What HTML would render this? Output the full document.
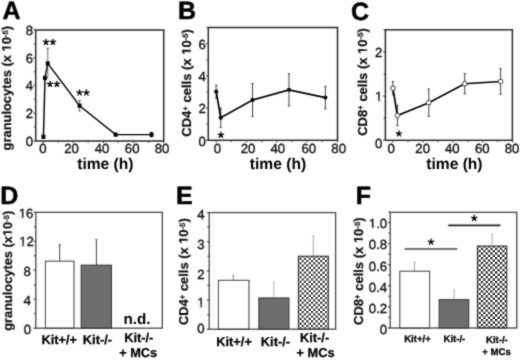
<!DOCTYPE html><html><head><meta charset="utf-8"><style>html,body{margin:0;padding:0;background:#fff;}svg{display:block;will-change:transform;} text{-webkit-font-smoothing:antialiased;text-rendering:geometricPrecision;}</style></head><body><svg width="520" height="360" viewBox="0 0 520 360">
<defs><filter id="bl" filterUnits="userSpaceOnUse" x="0" y="0" width="520" height="360"><feConvolveMatrix order="3" kernelMatrix="0.03 0.09 0.03 0.09 0.52 0.09 0.03 0.09 0.03" edgeMode="none"/></filter><pattern id="chk" patternUnits="userSpaceOnUse" width="4.76" height="4.76"><rect width="4.76" height="4.76" fill="#fff"/><rect width="2.38" height="2.38" fill="#444"/><rect x="2.38" y="2.38" width="2.38" height="2.38" fill="#444"/></pattern><pattern id="chkE" patternUnits="userSpaceOnUse" width="4.64" height="4.64"><rect width="4.64" height="4.64" fill="#fff"/><rect width="2.32" height="2.32" fill="#555"/><rect x="2.32" y="2.32" width="2.32" height="2.32" fill="#555"/></pattern></defs>
<rect width="520" height="360" fill="#fff"/>
<rect x="298.4" y="256.2" width="30" height="73" fill="url(#chkE)"/>
<rect x="477.4" y="246" width="29.4" height="82" fill="url(#chk)"/>
<g filter="url(#bl)" font-family='"Liberation Sans", sans-serif'>
<text  x="2.4" y="19.4" font-size="25" font-weight="bold" text-anchor="start" fill="#000" stroke="#000" stroke-width="0.5">A</text>
<text  x="178.1" y="19.4" font-size="25" font-weight="bold" text-anchor="start" fill="#000" stroke="#000" stroke-width="0.5">B</text>
<text  x="351" y="19.6" font-size="25" font-weight="bold" text-anchor="start" fill="#000" stroke="#000" stroke-width="0.5">C</text>
<text  x="0.2" y="204" font-size="25" font-weight="bold" text-anchor="start" fill="#000" stroke="#000" stroke-width="0.5">D</text>
<text  x="176" y="204.2" font-size="25" font-weight="bold" text-anchor="start" fill="#000" stroke="#000" stroke-width="0.5">E</text>
<text  x="355.7" y="203.9" font-size="25" font-weight="bold" text-anchor="start" fill="#000" stroke="#000" stroke-width="0.5">F</text>
<rect x="35.7" y="30" width="128" height="111" fill="none" stroke="#2a2a2a" stroke-width="1.5"/>
<line x1="33.5" y1="141" x2="35.7" y2="141" stroke="#484848" stroke-width="1.3" />
<line x1="33.94" y1="127.12" x2="35.7" y2="127.12" stroke="#484848" stroke-width="1.3" />
<line x1="33.5" y1="113.25" x2="35.7" y2="113.25" stroke="#484848" stroke-width="1.3" />
<line x1="33.94" y1="99.38" x2="35.7" y2="99.38" stroke="#484848" stroke-width="1.3" />
<line x1="33.5" y1="85.5" x2="35.7" y2="85.5" stroke="#484848" stroke-width="1.3" />
<line x1="33.94" y1="71.62" x2="35.7" y2="71.62" stroke="#484848" stroke-width="1.3" />
<line x1="33.5" y1="57.75" x2="35.7" y2="57.75" stroke="#484848" stroke-width="1.3" />
<line x1="33.94" y1="43.88" x2="35.7" y2="43.88" stroke="#484848" stroke-width="1.3" />
<line x1="33.5" y1="30" x2="35.7" y2="30" stroke="#484848" stroke-width="1.3" />
<line x1="43.2" y1="140.6" x2="43.2" y2="143" stroke="#484848" stroke-width="1.3" />
<line x1="58.24" y1="140.6" x2="58.24" y2="142.6" stroke="#484848" stroke-width="1.3" />
<line x1="73.28" y1="140.6" x2="73.28" y2="143" stroke="#484848" stroke-width="1.3" />
<line x1="88.32" y1="140.6" x2="88.32" y2="142.6" stroke="#484848" stroke-width="1.3" />
<line x1="103.36" y1="140.6" x2="103.36" y2="143" stroke="#484848" stroke-width="1.3" />
<line x1="118.4" y1="140.6" x2="118.4" y2="142.6" stroke="#484848" stroke-width="1.3" />
<line x1="133.44" y1="140.6" x2="133.44" y2="143" stroke="#484848" stroke-width="1.3" />
<line x1="148.48" y1="140.6" x2="148.48" y2="142.6" stroke="#484848" stroke-width="1.3" />
<line x1="163.52" y1="140.6" x2="163.52" y2="143" stroke="#484848" stroke-width="1.3" />
<text  x="33" y="145.62" font-size="13.2" font-weight="normal" text-anchor="end" fill="#111" stroke="#111" stroke-width="0.35">0</text>
<text  x="33" y="118.22" font-size="13.2" font-weight="normal" text-anchor="end" fill="#111" stroke="#111" stroke-width="0.35">2</text>
<text  x="33" y="90.22" font-size="13.2" font-weight="normal" text-anchor="end" fill="#111" stroke="#111" stroke-width="0.35">4</text>
<text  x="33" y="63.12" font-size="13.2" font-weight="normal" text-anchor="end" fill="#111" stroke="#111" stroke-width="0.35">6</text>
<text  x="33" y="34.62" font-size="13.2" font-weight="normal" text-anchor="end" fill="#111" stroke="#111" stroke-width="0.35">8</text>
<text  x="42.9" y="153.1" font-size="13.2" font-weight="normal" text-anchor="middle" fill="#111" stroke="#111" stroke-width="0.35">0</text>
<text  x="71.55" y="153.1" font-size="13.2" font-weight="normal" text-anchor="middle" fill="#111" stroke="#111" stroke-width="0.35">20</text>
<text  x="102.1" y="153.1" font-size="13.2" font-weight="normal" text-anchor="middle" fill="#111" stroke="#111" stroke-width="0.35">40</text>
<text  x="132.2" y="153.1" font-size="13.2" font-weight="normal" text-anchor="middle" fill="#111" stroke="#111" stroke-width="0.35">60</text>
<text  x="162" y="153.1" font-size="13.2" font-weight="normal" text-anchor="middle" fill="#111" stroke="#111" stroke-width="0.35">80</text>
<text  x="105.35" y="169.4" font-size="15.6" font-weight="bold" text-anchor="middle" fill="#000" >time (h)</text>
<text id="t1" transform="translate(10.9 150.4) rotate(-90)" font-size="12.9" font-weight="bold" fill="#111" stroke="#111" stroke-width="0.2"><tspan dy="-0">granulocytes (x 10</tspan><tspan font-size="7.74" dy="-3.1">-5</tspan><tspan dy="3.1">)</tspan></text>
<g transform="translate(10.9 150.4) rotate(-90)"><rect x="99.23" y="-1.59" width="2.52" height="2.24" fill="#fff"/><rect x="103.69" y="-1.59" width="2.24" height="2.24" fill="#fff"/></g>
<line x1="47.75" y1="48.3" x2="47.75" y2="79" stroke="#888" stroke-width="1.2" />
<line x1="46.25" y1="48.3" x2="49.25" y2="48.3" stroke="#888" stroke-width="1.2" />
<line x1="79.6" y1="100.6" x2="79.6" y2="110.9" stroke="#666" stroke-width="1.0" />
<line x1="78.4" y1="100.6" x2="80.8" y2="100.6" stroke="#666" stroke-width="1.0" />
<line x1="78.4" y1="110.9" x2="80.8" y2="110.9" stroke="#666" stroke-width="1.0" />
<polyline points="43.45,136.8 45,77.9 47.75,63.4 79.6,105.8 115.6,134.6 151.5,134.6" fill="none" stroke="#000" stroke-width="1.45"/>
<rect x="41.5" y="134.65" width="3.9" height="4.3" fill="#000"/>
<rect x="43.05" y="75.75" width="3.9" height="4.3" fill="#000"/>
<rect x="45.8" y="61.25" width="3.9" height="4.3" fill="#000"/>
<rect x="77.65" y="103.65" width="3.9" height="4.3" fill="#000"/>
<rect x="113.65" y="132.45" width="3.9" height="4.3" fill="#000"/>
<ellipse cx="151.5" cy="134.6" rx="2.2" ry="2.9" fill="#111"/>
<path d="M46 42.1L46 39.3M46 42.1L48.66 41.23M46 42.1L47.65 44.37M46 42.1L44.35 44.37M46 42.1L43.34 41.23" stroke="#000" stroke-width="1.35" stroke-linecap="round" fill="none"/>
<circle cx="46" cy="42.1" r="0.94" fill="#000"/>
<path d="M52.9 42.1L52.9 39.3M52.9 42.1L55.56 41.23M52.9 42.1L54.55 44.37M52.9 42.1L51.25 44.37M52.9 42.1L50.24 41.23" stroke="#000" stroke-width="1.35" stroke-linecap="round" fill="none"/>
<circle cx="52.9" cy="42.1" r="0.94" fill="#000"/>
<path d="M50 84.1L50 81.3M50 84.1L52.66 83.23M50 84.1L51.65 86.37M50 84.1L48.35 86.37M50 84.1L47.34 83.23" stroke="#000" stroke-width="1.35" stroke-linecap="round" fill="none"/>
<circle cx="50" cy="84.1" r="0.94" fill="#000"/>
<path d="M56.9 84.1L56.9 81.3M56.9 84.1L59.56 83.23M56.9 84.1L58.55 86.37M56.9 84.1L55.25 86.37M56.9 84.1L54.24 83.23" stroke="#000" stroke-width="1.35" stroke-linecap="round" fill="none"/>
<circle cx="56.9" cy="84.1" r="0.94" fill="#000"/>
<path d="M79.55 92.7L79.55 89.9M79.55 92.7L82.21 91.83M79.55 92.7L81.2 94.97M79.55 92.7L77.9 94.97M79.55 92.7L76.89 91.83" stroke="#000" stroke-width="1.35" stroke-linecap="round" fill="none"/>
<circle cx="79.55" cy="92.7" r="0.94" fill="#000"/>
<path d="M86.45 92.7L86.45 89.9M86.45 92.7L89.11 91.83M86.45 92.7L88.1 94.97M86.45 92.7L84.8 94.97M86.45 92.7L83.79 91.83" stroke="#000" stroke-width="1.35" stroke-linecap="round" fill="none"/>
<circle cx="86.45" cy="92.7" r="0.94" fill="#000"/>
<rect x="208.3" y="27.5" width="129.2" height="112.8" fill="none" stroke="#2a2a2a" stroke-width="1.5"/>
<line x1="206.1" y1="140.3" x2="208.3" y2="140.3" stroke="#484848" stroke-width="1.3" />
<line x1="206.54" y1="124.19" x2="208.3" y2="124.19" stroke="#484848" stroke-width="1.3" />
<line x1="206.1" y1="108.07" x2="208.3" y2="108.07" stroke="#484848" stroke-width="1.3" />
<line x1="206.54" y1="91.96" x2="208.3" y2="91.96" stroke="#484848" stroke-width="1.3" />
<line x1="206.1" y1="75.84" x2="208.3" y2="75.84" stroke="#484848" stroke-width="1.3" />
<line x1="206.54" y1="59.73" x2="208.3" y2="59.73" stroke="#484848" stroke-width="1.3" />
<line x1="206.1" y1="43.61" x2="208.3" y2="43.61" stroke="#484848" stroke-width="1.3" />
<line x1="206.54" y1="27.5" x2="208.3" y2="27.5" stroke="#484848" stroke-width="1.3" />
<line x1="216.2" y1="139.9" x2="216.2" y2="142.3" stroke="#484848" stroke-width="1.3" />
<line x1="231.36" y1="139.9" x2="231.36" y2="141.9" stroke="#484848" stroke-width="1.3" />
<line x1="246.52" y1="139.9" x2="246.52" y2="142.3" stroke="#484848" stroke-width="1.3" />
<line x1="261.68" y1="139.9" x2="261.68" y2="141.9" stroke="#484848" stroke-width="1.3" />
<line x1="276.84" y1="139.9" x2="276.84" y2="142.3" stroke="#484848" stroke-width="1.3" />
<line x1="292" y1="139.9" x2="292" y2="141.9" stroke="#484848" stroke-width="1.3" />
<line x1="307.16" y1="139.9" x2="307.16" y2="142.3" stroke="#484848" stroke-width="1.3" />
<line x1="322.32" y1="139.9" x2="322.32" y2="141.9" stroke="#484848" stroke-width="1.3" />
<line x1="337.48" y1="139.9" x2="337.48" y2="142.3" stroke="#484848" stroke-width="1.3" />
<text  x="205.9" y="146.32" font-size="13.2" font-weight="normal" text-anchor="end" fill="#111" stroke="#111" stroke-width="0.35">0</text>
<text  x="205.9" y="113.22" font-size="13.2" font-weight="normal" text-anchor="end" fill="#111" stroke="#111" stroke-width="0.35">2</text>
<text  x="205.9" y="81.02" font-size="13.2" font-weight="normal" text-anchor="end" fill="#111" stroke="#111" stroke-width="0.35">4</text>
<text  x="205.9" y="48.52" font-size="13.2" font-weight="normal" text-anchor="end" fill="#111" stroke="#111" stroke-width="0.35">6</text>
<text  x="217.35" y="153.1" font-size="13.2" font-weight="normal" text-anchor="middle" fill="#111" stroke="#111" stroke-width="0.35">0</text>
<text  x="248" y="153.1" font-size="13.2" font-weight="normal" text-anchor="middle" fill="#111" stroke="#111" stroke-width="0.35">20</text>
<text  x="277.75" y="153.1" font-size="13.2" font-weight="normal" text-anchor="middle" fill="#111" stroke="#111" stroke-width="0.35">40</text>
<text  x="308.75" y="153.1" font-size="13.2" font-weight="normal" text-anchor="middle" fill="#111" stroke="#111" stroke-width="0.35">60</text>
<text  x="338.7" y="153.1" font-size="13.2" font-weight="normal" text-anchor="middle" fill="#111" stroke="#111" stroke-width="0.35">80</text>
<text  x="278" y="168.8" font-size="15.6" font-weight="bold" text-anchor="middle" fill="#000" >time (h)</text>
<text id="t2" transform="translate(191.3 136.7) rotate(-90)" font-size="13" font-weight="bold" fill="#111" stroke="#111" stroke-width="0.2"><tspan dy="-0">CD4</tspan><tspan font-size="7.8" dy="-3.12">+</tspan><tspan dy="3.12"> cells (x 10</tspan><tspan font-size="7.8" dy="-3.12">-5</tspan><tspan dy="3.12">)</tspan></text>
<g transform="translate(191.3 136.7) rotate(-90)"><rect x="82.27" y="-1.61" width="2.54" height="2.26" fill="#fff"/><rect x="86.76" y="-1.61" width="2.26" height="2.26" fill="#fff"/></g>
<line x1="216.2" y1="85.19" x2="216.2" y2="98.08" stroke="#383838" stroke-width="0.95" />
<line x1="215.1" y1="85.19" x2="217.3" y2="85.19" stroke="#383838" stroke-width="0.95" />
<line x1="215.1" y1="98.08" x2="217.3" y2="98.08" stroke="#383838" stroke-width="0.95" />
<line x1="220.75" y1="108.07" x2="220.75" y2="127.41" stroke="#383838" stroke-width="0.95" />
<line x1="219.65" y1="108.07" x2="221.85" y2="108.07" stroke="#383838" stroke-width="0.95" />
<line x1="219.65" y1="127.41" x2="221.85" y2="127.41" stroke="#383838" stroke-width="0.95" />
<line x1="252.58" y1="83.42" x2="252.58" y2="116.61" stroke="#383838" stroke-width="0.95" />
<line x1="251.48" y1="83.42" x2="253.68" y2="83.42" stroke="#383838" stroke-width="0.95" />
<line x1="251.48" y1="116.61" x2="253.68" y2="116.61" stroke="#383838" stroke-width="0.95" />
<line x1="288.97" y1="73.75" x2="288.97" y2="105.98" stroke="#383838" stroke-width="0.95" />
<line x1="287.87" y1="73.75" x2="290.07" y2="73.75" stroke="#383838" stroke-width="0.95" />
<line x1="287.87" y1="105.98" x2="290.07" y2="105.98" stroke="#383838" stroke-width="0.95" />
<line x1="325.35" y1="86.32" x2="325.35" y2="108.88" stroke="#383838" stroke-width="0.95" />
<line x1="324.25" y1="86.32" x2="326.45" y2="86.32" stroke="#383838" stroke-width="0.95" />
<line x1="324.25" y1="108.88" x2="326.45" y2="108.88" stroke="#383838" stroke-width="0.95" />
<polyline points="216.2,91.63 220.75,117.74 252.58,100.01 288.97,89.86 325.35,97.6" fill="none" stroke="#000" stroke-width="1.7"/>
<circle cx="216.2" cy="91.63" r="2.15" fill="#111"/>
<circle cx="220.75" cy="117.74" r="2.15" fill="#111"/>
<circle cx="252.58" cy="100.01" r="2.15" fill="#111"/>
<circle cx="288.97" cy="89.86" r="2.15" fill="#111"/>
<circle cx="325.35" cy="97.6" r="2.15" fill="#111"/>
<path d="M220.9 135L220.9 132.2M220.9 135L223.56 134.13M220.9 135L222.55 137.27M220.9 135L219.25 137.27M220.9 135L218.24 134.13" stroke="#000" stroke-width="1.35" stroke-linecap="round" fill="none"/>
<circle cx="220.9" cy="135" r="0.94" fill="#000"/>
<rect x="385.4" y="29.8" width="127" height="110.5" fill="none" stroke="#2a2a2a" stroke-width="1.5"/>
<line x1="383.2" y1="140.3" x2="385.4" y2="140.3" stroke="#484848" stroke-width="1.3" />
<line x1="383.64" y1="118.2" x2="385.4" y2="118.2" stroke="#484848" stroke-width="1.3" />
<line x1="383.2" y1="96.1" x2="385.4" y2="96.1" stroke="#484848" stroke-width="1.3" />
<line x1="383.64" y1="74" x2="385.4" y2="74" stroke="#484848" stroke-width="1.3" />
<line x1="383.2" y1="51.9" x2="385.4" y2="51.9" stroke="#484848" stroke-width="1.3" />
<line x1="383.64" y1="29.8" x2="385.4" y2="29.8" stroke="#484848" stroke-width="1.3" />
<line x1="392.9" y1="139.9" x2="392.9" y2="142.3" stroke="#484848" stroke-width="1.3" />
<line x1="407.86" y1="139.9" x2="407.86" y2="141.9" stroke="#484848" stroke-width="1.3" />
<line x1="422.82" y1="139.9" x2="422.82" y2="142.3" stroke="#484848" stroke-width="1.3" />
<line x1="437.78" y1="139.9" x2="437.78" y2="141.9" stroke="#484848" stroke-width="1.3" />
<line x1="452.74" y1="139.9" x2="452.74" y2="142.3" stroke="#484848" stroke-width="1.3" />
<line x1="467.7" y1="139.9" x2="467.7" y2="141.9" stroke="#484848" stroke-width="1.3" />
<line x1="482.66" y1="139.9" x2="482.66" y2="142.3" stroke="#484848" stroke-width="1.3" />
<line x1="497.62" y1="139.9" x2="497.62" y2="141.9" stroke="#484848" stroke-width="1.3" />
<line x1="512.58" y1="139.9" x2="512.58" y2="142.3" stroke="#484848" stroke-width="1.3" />
<text  x="382.4" y="147.62" font-size="13.2" font-weight="normal" text-anchor="end" fill="#111" stroke="#111" stroke-width="0.35">0</text>
<text id="t3" x="382.4" y="100.92" font-size="13.2" font-weight="normal" text-anchor="end" fill="#111" stroke="#111" stroke-width="0.35">1</text>
<g><rect x="375.06" y="99.52" width="3.12" height="2.06" fill="#fff"/><rect x="379.7" y="99.52" width="2.69" height="2.06" fill="#fff"/></g>
<text  x="382.4" y="57.12" font-size="13.2" font-weight="normal" text-anchor="end" fill="#111" stroke="#111" stroke-width="0.35">2</text>
<text  x="391.25" y="153.1" font-size="13.2" font-weight="normal" text-anchor="middle" fill="#111" stroke="#111" stroke-width="0.35">0</text>
<text  x="422.7" y="153.1" font-size="13.2" font-weight="normal" text-anchor="middle" fill="#111" stroke="#111" stroke-width="0.35">20</text>
<text  x="452.3" y="153.1" font-size="13.2" font-weight="normal" text-anchor="middle" fill="#111" stroke="#111" stroke-width="0.35">40</text>
<text  x="482.3" y="153.1" font-size="13.2" font-weight="normal" text-anchor="middle" fill="#111" stroke="#111" stroke-width="0.35">60</text>
<text  x="512.1" y="153.1" font-size="13.2" font-weight="normal" text-anchor="middle" fill="#111" stroke="#111" stroke-width="0.35">80</text>
<text  x="454.4" y="168.5" font-size="15.6" font-weight="bold" text-anchor="middle" fill="#000" >time (h)</text>
<text id="t4" transform="translate(366.5 135.8) rotate(-90)" font-size="13" font-weight="bold" fill="#111" stroke="#111" stroke-width="0.2"><tspan dy="-0">CD8</tspan><tspan font-size="7.8" dy="-3.12">+</tspan><tspan dy="3.12"> cells (x 10</tspan><tspan font-size="7.8" dy="-3.12">-5</tspan><tspan dy="3.12">)</tspan></text>
<g transform="translate(366.5 135.8) rotate(-90)"><rect x="82.27" y="-1.61" width="2.54" height="2.26" fill="#fff"/><rect x="86.76" y="-1.61" width="2.26" height="2.26" fill="#fff"/></g>
<line x1="392.9" y1="81.51" x2="392.9" y2="94.77" stroke="#383838" stroke-width="0.95" />
<line x1="391.8" y1="81.51" x2="394" y2="81.51" stroke="#383838" stroke-width="0.95" />
<line x1="391.8" y1="94.77" x2="394" y2="94.77" stroke="#383838" stroke-width="0.95" />
<line x1="397.39" y1="105.38" x2="397.39" y2="125.71" stroke="#383838" stroke-width="0.95" />
<line x1="396.29" y1="105.38" x2="398.49" y2="105.38" stroke="#383838" stroke-width="0.95" />
<line x1="396.29" y1="125.71" x2="398.49" y2="125.71" stroke="#383838" stroke-width="0.95" />
<line x1="428.8" y1="89.03" x2="428.8" y2="116.43" stroke="#383838" stroke-width="0.95" />
<line x1="427.7" y1="89.03" x2="429.9" y2="89.03" stroke="#383838" stroke-width="0.95" />
<line x1="427.7" y1="116.43" x2="429.9" y2="116.43" stroke="#383838" stroke-width="0.95" />
<line x1="464.71" y1="73.56" x2="464.71" y2="93.89" stroke="#383838" stroke-width="0.95" />
<line x1="463.61" y1="73.56" x2="465.81" y2="73.56" stroke="#383838" stroke-width="0.95" />
<line x1="463.61" y1="93.89" x2="465.81" y2="93.89" stroke="#383838" stroke-width="0.95" />
<line x1="500.61" y1="68.7" x2="500.61" y2="94.33" stroke="#383838" stroke-width="0.95" />
<line x1="499.51" y1="68.7" x2="501.71" y2="68.7" stroke="#383838" stroke-width="0.95" />
<line x1="499.51" y1="94.33" x2="501.71" y2="94.33" stroke="#383838" stroke-width="0.95" />
<polyline points="392.9,88.14 397.39,115.55 428.8,102.73 464.71,83.72 500.61,81.51" fill="none" stroke="#000" stroke-width="1.7"/>
<circle cx="392.9" cy="88.14" r="2.3" fill="#fff" stroke="#111" stroke-width="1"/>
<circle cx="397.39" cy="115.55" r="2.3" fill="#fff" stroke="#111" stroke-width="1"/>
<circle cx="428.8" cy="102.73" r="2.3" fill="#fff" stroke="#111" stroke-width="1"/>
<circle cx="464.71" cy="83.72" r="2.3" fill="#fff" stroke="#111" stroke-width="1"/>
<circle cx="500.61" cy="81.51" r="2.3" fill="#fff" stroke="#111" stroke-width="1"/>
<path d="M398.9 133.7L398.9 130.9M398.9 133.7L401.56 132.83M398.9 133.7L400.55 135.97M398.9 133.7L397.25 135.97M398.9 133.7L396.24 132.83" stroke="#000" stroke-width="1.35" stroke-linecap="round" fill="none"/>
<circle cx="398.9" cy="133.7" r="0.94" fill="#000"/>
<line x1="59.7" y1="244.7" x2="59.7" y2="261.3" stroke="#444" stroke-width="1.0" />
<line x1="58.7" y1="244.7" x2="60.7" y2="244.7" stroke="#444" stroke-width="1.0" />
<line x1="96.4" y1="239.7" x2="96.4" y2="265.2" stroke="#444" stroke-width="1.0" />
<line x1="95.4" y1="239.7" x2="97.4" y2="239.7" stroke="#444" stroke-width="1.0" />
<rect x="45.5" y="261.3" width="28.5" height="66.9" fill="#fff" stroke="#333" stroke-width="1.1"/>
<rect x="81.2" y="265.2" width="30.2" height="63" fill="#6e6e6e" stroke="#333" stroke-width="1.1"/>
<rect x="35.8" y="212.3" width="126.5" height="115.9" fill="none" stroke="#484848" stroke-width="1.3"/>
<line x1="33.6" y1="328.2" x2="35.8" y2="328.2" stroke="#484848" stroke-width="1.3" />
<line x1="34.04" y1="313.71" x2="35.8" y2="313.71" stroke="#484848" stroke-width="1.3" />
<line x1="33.6" y1="299.23" x2="35.8" y2="299.23" stroke="#484848" stroke-width="1.3" />
<line x1="34.04" y1="284.74" x2="35.8" y2="284.74" stroke="#484848" stroke-width="1.3" />
<line x1="33.6" y1="270.25" x2="35.8" y2="270.25" stroke="#484848" stroke-width="1.3" />
<line x1="34.04" y1="255.76" x2="35.8" y2="255.76" stroke="#484848" stroke-width="1.3" />
<line x1="33.6" y1="241.28" x2="35.8" y2="241.28" stroke="#484848" stroke-width="1.3" />
<line x1="34.04" y1="226.79" x2="35.8" y2="226.79" stroke="#484848" stroke-width="1.3" />
<line x1="33.6" y1="212.3" x2="35.8" y2="212.3" stroke="#484848" stroke-width="1.3" />
<text  x="27.35" y="334.32" font-size="13.2" font-weight="normal" text-anchor="middle" fill="#111" stroke="#111" stroke-width="0.35">0</text>
<text  x="27.05" y="305.42" font-size="13.2" font-weight="normal" text-anchor="middle" fill="#111" stroke="#111" stroke-width="0.35">4</text>
<text  x="27.05" y="276.12" font-size="13.2" font-weight="normal" text-anchor="middle" fill="#111" stroke="#111" stroke-width="0.35">8</text>
<text id="t5" x="26.55" y="245.92" font-size="13.2" font-weight="normal" text-anchor="middle" fill="#111" stroke="#111" stroke-width="0.35">12</text>
<g><rect x="19.21" y="244.52" width="3.12" height="2.06" fill="#fff"/><rect x="23.86" y="244.52" width="2.69" height="2.06" fill="#fff"/></g>
<text id="t6" x="26.1" y="218.22" font-size="13.2" font-weight="normal" text-anchor="middle" fill="#111" stroke="#111" stroke-width="0.35">16</text>
<g><rect x="18.76" y="216.82" width="3.12" height="2.06" fill="#fff"/><rect x="23.41" y="216.82" width="2.69" height="2.06" fill="#fff"/></g>
<text  x="137" y="324.2" font-size="15.2" font-weight="bold" text-anchor="middle" fill="#000" >n.d.</text>
<text  x="59.3" y="343.9" font-size="12.8" font-weight="bold" text-anchor="middle" fill="#000" stroke="#000" stroke-width="0.25">Kit+/+</text>
<text  x="97.4" y="343.9" font-size="12.8" font-weight="bold" text-anchor="middle" fill="#000" stroke="#000" stroke-width="0.25">Kit-/-</text>
<text  x="138.8" y="341.7" font-size="12.8" font-weight="bold" text-anchor="middle" fill="#000" stroke="#000" stroke-width="0.25">Kit-/-</text>
<text  x="138.2" y="356.8" font-size="12.8" font-weight="bold" text-anchor="middle" fill="#000" stroke="#000" stroke-width="0.25">+ MCs</text>
<text id="t7" transform="translate(12 330.8) rotate(-90)" font-size="12.82" font-weight="bold" fill="#111" stroke="#111" stroke-width="0.2"><tspan dy="-0">granulocytes (x10</tspan><tspan font-size="7.69" dy="-3.08">-5</tspan><tspan dy="3.08">)</tspan></text>
<g transform="translate(12 330.8) rotate(-90)"><rect x="95.07" y="-1.59" width="2.5" height="2.23" fill="#fff"/><rect x="99.51" y="-1.59" width="2.23" height="2.23" fill="#fff"/></g>
<line x1="233.3" y1="275.1" x2="233.3" y2="280.4" stroke="#777" stroke-width="0.9" />
<line x1="232.3" y1="275.1" x2="234.3" y2="275.1" stroke="#777" stroke-width="0.9" />
<line x1="273.8" y1="282.2" x2="273.8" y2="298" stroke="#aaa" stroke-width="0.9" />
<line x1="272.8" y1="282.2" x2="274.8" y2="282.2" stroke="#aaa" stroke-width="0.9" />
<line x1="313.3" y1="236.2" x2="313.3" y2="256.2" stroke="#999" stroke-width="0.9" />
<line x1="312.3" y1="236.2" x2="314.3" y2="236.2" stroke="#999" stroke-width="0.9" />
<rect x="218.5" y="280.4" width="30.4" height="48.8" fill="#fff" stroke="#333" stroke-width="1.1"/>
<rect x="258.9" y="298" width="30" height="31.2" fill="#6e6e6e" stroke="#333" stroke-width="1.1"/>
<rect x="298.4" y="256.2" width="30" height="73" fill="none" stroke="#333" stroke-width="1.1"/>
<rect x="209.2" y="212.6" width="126.4" height="116.6" fill="none" stroke="#484848" stroke-width="1.3"/>
<line x1="207" y1="329.2" x2="209.2" y2="329.2" stroke="#484848" stroke-width="1.3" />
<line x1="207.44" y1="314.62" x2="209.2" y2="314.62" stroke="#484848" stroke-width="1.3" />
<line x1="207" y1="300.05" x2="209.2" y2="300.05" stroke="#484848" stroke-width="1.3" />
<line x1="207.44" y1="285.48" x2="209.2" y2="285.48" stroke="#484848" stroke-width="1.3" />
<line x1="207" y1="270.9" x2="209.2" y2="270.9" stroke="#484848" stroke-width="1.3" />
<line x1="207.44" y1="256.32" x2="209.2" y2="256.32" stroke="#484848" stroke-width="1.3" />
<line x1="207" y1="241.75" x2="209.2" y2="241.75" stroke="#484848" stroke-width="1.3" />
<line x1="207.44" y1="227.18" x2="209.2" y2="227.18" stroke="#484848" stroke-width="1.3" />
<line x1="207" y1="212.6" x2="209.2" y2="212.6" stroke="#484848" stroke-width="1.3" />
<text  x="204.6" y="333.37" font-size="13.2" font-weight="normal" text-anchor="end" fill="#111" stroke="#111" stroke-width="0.35">0</text>
<text id="t8" x="204.6" y="306.82" font-size="13.2" font-weight="normal" text-anchor="end" fill="#111" stroke="#111" stroke-width="0.35">1</text>
<g><rect x="197.26" y="305.42" width="3.12" height="2.06" fill="#fff"/><rect x="201.9" y="305.42" width="2.69" height="2.06" fill="#fff"/></g>
<text  x="204.6" y="278.82" font-size="13.2" font-weight="normal" text-anchor="end" fill="#111" stroke="#111" stroke-width="0.35">2</text>
<text  x="204.6" y="248.82" font-size="13.2" font-weight="normal" text-anchor="end" fill="#111" stroke="#111" stroke-width="0.35">3</text>
<text  x="204.6" y="219.37" font-size="13.2" font-weight="normal" text-anchor="end" fill="#111" stroke="#111" stroke-width="0.35">4</text>
<text  x="234.1" y="345.5" font-size="12.8" font-weight="bold" text-anchor="middle" fill="#000" stroke="#000" stroke-width="0.25">Kit+/+</text>
<text  x="275.4" y="345.5" font-size="12.8" font-weight="bold" text-anchor="middle" fill="#000" stroke="#000" stroke-width="0.25">Kit-/-</text>
<text  x="314.6" y="342" font-size="12.8" font-weight="bold" text-anchor="middle" fill="#000" stroke="#000" stroke-width="0.25">Kit-/-</text>
<text  x="315.6" y="357" font-size="12.8" font-weight="bold" text-anchor="middle" fill="#000" stroke="#000" stroke-width="0.25">+ MCs</text>
<text id="t9" transform="translate(188 325) rotate(-90)" font-size="12.9" font-weight="bold" fill="#111" stroke="#111" stroke-width="0.2"><tspan dy="-0">CD4</tspan><tspan font-size="7.74" dy="-3.1">+</tspan><tspan dy="3.1"> cells (x 10</tspan><tspan font-size="7.74" dy="-3.1">-5</tspan><tspan dy="3.1">)</tspan></text>
<g transform="translate(188 325) rotate(-90)"><rect x="81.59" y="-1.59" width="2.52" height="2.24" fill="#fff"/><rect x="86.05" y="-1.59" width="2.24" height="2.24" fill="#fff"/></g>
<line x1="414.5" y1="262.1" x2="414.5" y2="271.3" stroke="#999" stroke-width="0.9" />
<line x1="413.5" y1="262.1" x2="415.5" y2="262.1" stroke="#999" stroke-width="0.9" />
<line x1="454.2" y1="290" x2="454.2" y2="299.7" stroke="#aaa" stroke-width="0.9" />
<line x1="453.2" y1="290" x2="455.2" y2="290" stroke="#aaa" stroke-width="0.9" />
<line x1="492.2" y1="234" x2="492.2" y2="246" stroke="#aaa" stroke-width="0.9" />
<line x1="491.2" y1="234" x2="493.2" y2="234" stroke="#aaa" stroke-width="0.9" />
<rect x="399.8" y="271.3" width="29.7" height="56.7" fill="#fff" stroke="#333" stroke-width="1.1"/>
<rect x="439.2" y="299.7" width="29.5" height="28.3" fill="#6e6e6e" stroke="#333" stroke-width="1.1"/>
<rect x="477.4" y="246" width="29.4" height="82" fill="none" stroke="#333" stroke-width="1.1"/>
<rect x="390.2" y="212.3" width="126.6" height="115.7" fill="none" stroke="#484848" stroke-width="1.3"/>
<line x1="388" y1="328" x2="390.2" y2="328" stroke="#484848" stroke-width="1.3" />
<line x1="388.44" y1="317.45" x2="390.2" y2="317.45" stroke="#484848" stroke-width="1.3" />
<line x1="388" y1="306.9" x2="390.2" y2="306.9" stroke="#484848" stroke-width="1.3" />
<line x1="388.44" y1="296.35" x2="390.2" y2="296.35" stroke="#484848" stroke-width="1.3" />
<line x1="388" y1="285.8" x2="390.2" y2="285.8" stroke="#484848" stroke-width="1.3" />
<line x1="388.44" y1="275.25" x2="390.2" y2="275.25" stroke="#484848" stroke-width="1.3" />
<line x1="388" y1="264.7" x2="390.2" y2="264.7" stroke="#484848" stroke-width="1.3" />
<line x1="388.44" y1="254.15" x2="390.2" y2="254.15" stroke="#484848" stroke-width="1.3" />
<line x1="388" y1="243.6" x2="390.2" y2="243.6" stroke="#484848" stroke-width="1.3" />
<line x1="388.44" y1="233.05" x2="390.2" y2="233.05" stroke="#484848" stroke-width="1.3" />
<line x1="388" y1="222.5" x2="390.2" y2="222.5" stroke="#484848" stroke-width="1.3" />
<line x1="388.44" y1="211.95" x2="390.2" y2="211.95" stroke="#484848" stroke-width="1.3" />
<text  x="387.2" y="333.82" font-size="13.2" font-weight="normal" text-anchor="end" fill="#111" stroke="#111" stroke-width="0.35">0</text>
<text  x="387.2" y="313.22" font-size="13.2" font-weight="normal" text-anchor="end" fill="#111" stroke="#111" stroke-width="0.35">0.2</text>
<text  x="387.2" y="292.02" font-size="13.2" font-weight="normal" text-anchor="end" fill="#111" stroke="#111" stroke-width="0.35">0.4</text>
<text  x="387.2" y="270.92" font-size="13.2" font-weight="normal" text-anchor="end" fill="#111" stroke="#111" stroke-width="0.35">0.6</text>
<text  x="387.2" y="249.32" font-size="13.2" font-weight="normal" text-anchor="end" fill="#111" stroke="#111" stroke-width="0.35">0.8</text>
<text id="t10" x="387.2" y="228.32" font-size="13.2" font-weight="normal" text-anchor="end" fill="#111" stroke="#111" stroke-width="0.35">1.0</text>
<g><rect x="368.86" y="226.92" width="3.12" height="2.06" fill="#fff"/><rect x="373.5" y="226.92" width="2.69" height="2.06" fill="#fff"/></g>
<line x1="404.7" y1="249" x2="457.3" y2="249" stroke="#444" stroke-width="1.6" />
<line x1="448.2" y1="225.4" x2="500.4" y2="225.4" stroke="#222" stroke-width="1.6" />
<path d="M431 241.9L431 239.1M431 241.9L433.66 241.03M431 241.9L432.65 244.17M431 241.9L429.35 244.17M431 241.9L428.34 241.03" stroke="#000" stroke-width="1.35" stroke-linecap="round" fill="none"/>
<circle cx="431" cy="241.9" r="0.94" fill="#000"/>
<path d="M474.2 218.2L474.2 215.4M474.2 218.2L476.86 217.33M474.2 218.2L475.85 220.47M474.2 218.2L472.55 220.47M474.2 218.2L471.54 217.33" stroke="#000" stroke-width="1.35" stroke-linecap="round" fill="none"/>
<circle cx="474.2" cy="218.2" r="0.94" fill="#000"/>
<text  x="417.5" y="342" font-size="9.6" font-weight="bold" text-anchor="middle" fill="#000" stroke="#000" stroke-width="0.3">Kit+/+</text>
<text  x="454.4" y="342" font-size="9.6" font-weight="bold" text-anchor="middle" fill="#000" stroke="#000" stroke-width="0.3">Kit-/-</text>
<text  x="496.9" y="343" font-size="9.6" font-weight="bold" text-anchor="middle" fill="#000" stroke="#000" stroke-width="0.3">Kit-/-</text>
<text  x="496.5" y="354.5" font-size="9.6" font-weight="bold" text-anchor="middle" fill="#000" stroke="#000" stroke-width="0.3">+ MCs</text>
<text id="t11" transform="translate(363.3 325) rotate(-90)" font-size="13" font-weight="bold" fill="#111" stroke="#111" stroke-width="0.2"><tspan dy="-0">CD8</tspan><tspan font-size="7.8" dy="-3.12">+</tspan><tspan dy="3.12"> cells (x 10</tspan><tspan font-size="7.8" dy="-3.12">-5</tspan><tspan dy="3.12">)</tspan></text>
<g transform="translate(363.3 325) rotate(-90)"><rect x="82.27" y="-1.61" width="2.54" height="2.26" fill="#fff"/><rect x="86.76" y="-1.61" width="2.26" height="2.26" fill="#fff"/></g>
</g></svg></body></html>
